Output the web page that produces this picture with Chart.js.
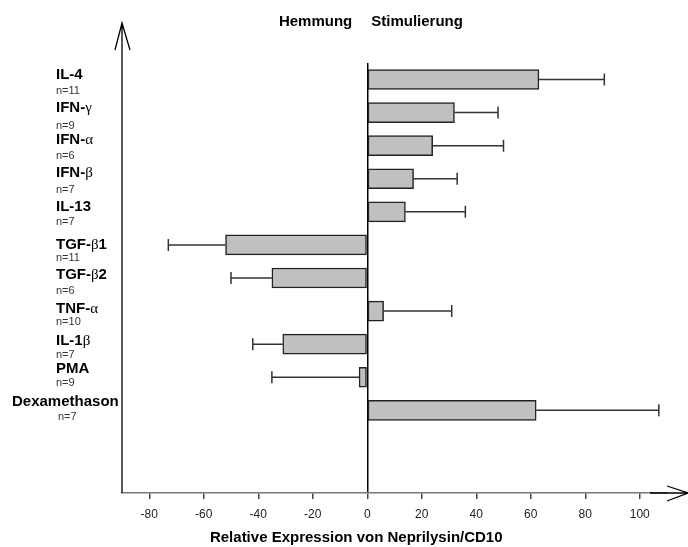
<!DOCTYPE html>
<html>
<head>
<meta charset="utf-8">
<script src="https://cdn.jsdelivr.net/npm/chart.js@4.4.1/dist/chart.umd.min.js"></script>
<style>
  html, body { margin: 0; background: #fff; }
  #wrap { width: 688px; height: 547px; position: relative; }
</style>
</head>
<body>
<div id="wrap"><canvas id="chart"></canvas></div>
<script>
const LABELS = ['IL-4', 'IFN-γ', 'IFN-α', 'IFN-β', 'IL-13', 'TGF-β1', 'TGF-β2', 'TNF-α', 'IL-1β', 'PMA', 'Dexamethason'];
const N_COUNTS = [11, 9, 6, 7, 7, 11, 6, 10, 7, 9, 7];
const VALUES = [63, 32, 24, 17, 14, -52, -35, 6, -31, -3, 62];
const ERRORS = [24, 16, 26, 16, 22, 21, 15, 25, 11, 32, 45];
const X_TICKS = [-80, -60, -40, -20, 0, 20, 40, 60, 80, 100];
const X_TITLE = 'Relative Expression von Neprilysin/CD10';
const SIDE_LEFT = 'Hemmung';
const SIDE_RIGHT = 'Stimulierung';

const FONT = "'Liberation Sans', Arial, sans-serif";
// vertical nudges of the two-line labels relative to the bar centre
const NAME_DY = [-5, -5, -6, -6, -5, 0, -3, -2, -3, -8, -8];
const COUNT_DY = [11, 13, 10, 11, 10, 13, 13, 11, 11, 6, 7];

function drawName(ctx, text, x, y) {
  // greek letters come out in a plain serif face, the rest bold
  for (const ch of text) {
    ctx.font = /[α-ω]/.test(ch) ? "15px 'Liberation Serif', serif" : 'bold 15px ' + FONT;
    ctx.fillText(ch, x, y);
    x += ctx.measureText(ch).width;
  }
}

const decor = {
  id: 'decor',
  afterDatasetsDraw(chart) {
    const { ctx, chartArea: a, scales: { x, y } } = chart;
    const zeroX = x.getPixelForValue(0);
    ctx.save();

    // error bars, drawn outward from the bar end
    VALUES.forEach((v, i) => {
      const cy = y.getPixelForValue(i);
      const x0 = x.getPixelForValue(v);
      const x1 = x.getPixelForValue(v + Math.sign(v) * ERRORS[i]);
      ctx.strokeStyle = '#333';
      ctx.lineWidth = 1.5;
      ctx.beginPath();
      ctx.moveTo(x0, cy); ctx.lineTo(x1, cy);
      ctx.moveTo(x1, cy - 6); ctx.lineTo(x1, cy + 6);
      ctx.stroke();
    });

    // left axis with open arrow head
    ctx.strokeStyle = '#000';
    ctx.lineWidth = 1.3;
    ctx.beginPath();
    ctx.moveTo(a.left, a.bottom); ctx.lineTo(a.left, 23);
    ctx.moveTo(a.left - 7, 50); ctx.lineTo(a.left, 23); ctx.lineTo(a.left + 8, 50);
    ctx.stroke();

    // arrow at the right end of the x axis
    ctx.beginPath();
    ctx.moveTo(650, a.bottom); ctx.lineTo(688, a.bottom);
    ctx.moveTo(667, a.bottom - 7); ctx.lineTo(688, a.bottom); ctx.lineTo(667, a.bottom + 8);
    ctx.stroke();

    // category labels with counts
    ctx.fillStyle = '#000';
    ctx.textBaseline = 'middle';
    ctx.textAlign = 'left';
    LABELS.forEach((lab, i) => {
      const cy = y.getPixelForValue(i);
      const long = lab.length > 8;
      drawName(ctx, lab, long ? 12 : 56, cy + NAME_DY[i]);
      ctx.font = '11px ' + FONT;
      ctx.fillStyle = '#333';
      ctx.fillText('n=' + N_COUNTS[i], long ? 58 : 56, cy + COUNT_DY[i]);
      ctx.fillStyle = '#000';
    });

    // side captions above the zero line
    ctx.font = 'bold 15px ' + FONT;
    ctx.textAlign = 'right';
    ctx.fillText(SIDE_LEFT, zeroX - 15, 22);
    ctx.textAlign = 'left';
    ctx.fillText(SIDE_RIGHT, zeroX + 4, 22);

    // axis title
    ctx.textAlign = 'center';
    ctx.fillText(X_TITLE, zeroX - 11, 538);
    ctx.restore();
  }
};

new Chart('chart', {
  type: 'bar',
  data: {
    datasets: [{
      data: VALUES.map((v, i) => ({ x: v, y: i })),
      backgroundColor: '#c0c0c0',
      borderColor: '#222',
      borderWidth: 1.5,
      borderSkipped: false,
      barThickness: 20
    }]
  },
  options: {
    indexAxis: 'y',
    responsive: true,
    maintainAspectRatio: false,
    animation: false,
    layout: { padding: { left: 122, right: 21, top: 63, bottom: 0 } },
    plugins: { legend: { display: false }, tooltip: { enabled: false } },
    scales: {
      x: {
        type: 'linear',
        min: -90, max: 110,
        afterBuildTicks: s => { s.ticks = X_TICKS.map(v => ({ value: v })); },
        afterFit: s => { s.height = 54; },
        grid: {
          color: c => c.tick && c.tick.value === 0 ? '#000' : 'rgba(0,0,0,0)',
          lineWidth: 1.5,
          tickColor: '#444',
          tickLength: 6
        },
        border: { color: '#777', width: 1.5 },
        ticks: { color: '#222', font: { family: FONT, size: 12 }, padding: 8, maxRotation: 0 }
      },
      y: {
        type: 'linear',
        reverse: true,
        offset: false,
        min: -0.5, max: 12.5,
        display: false
      }
    }
  },
  plugins: [decor]
});
</script>
</body>
</html>
